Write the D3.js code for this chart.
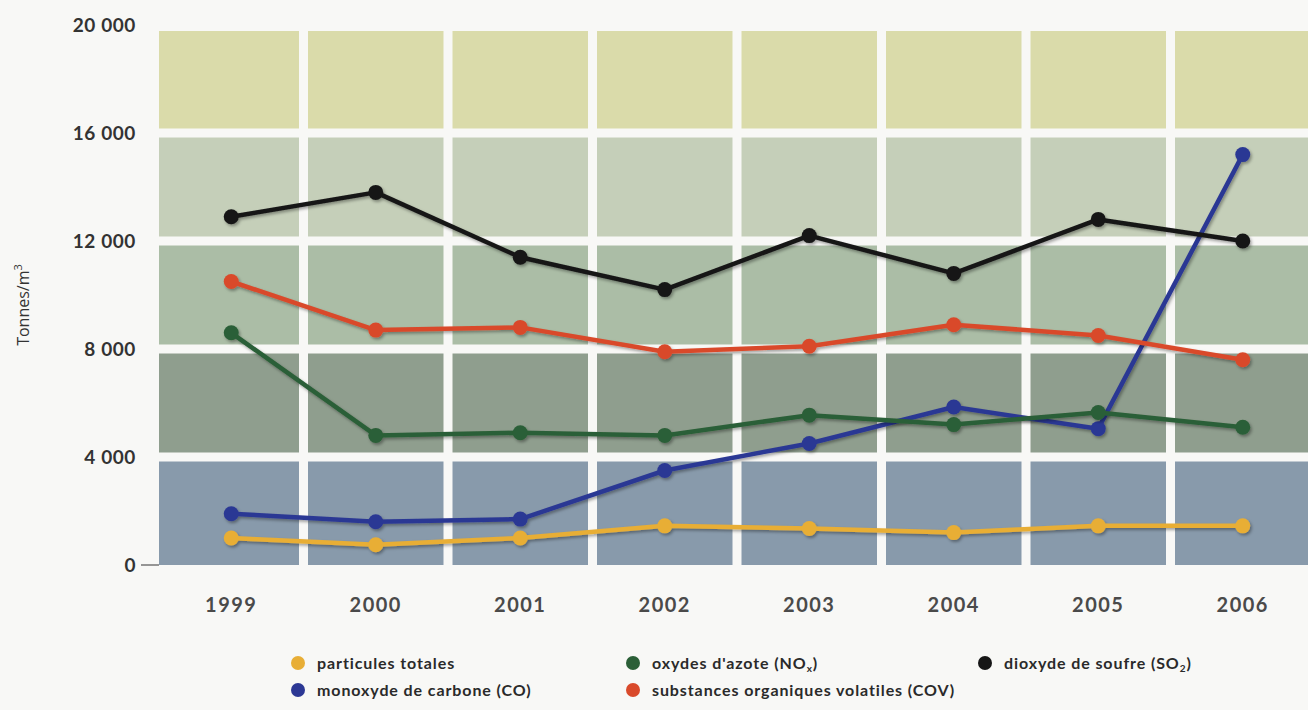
<!DOCTYPE html>
<html><head><meta charset="utf-8">
<script src="https://cdn.jsdelivr.net/npm/d3@7"></script>
<style>
html,body{margin:0;padding:0;background:#f8f8f6;}
svg{display:block;}
</style></head>
<body>
<svg id="chart" width="1308" height="710"></svg>
<script>
// ---- data ----
const years = ["1999","2000","2001","2002","2003","2004","2005","2006"];
const particules = [1000, 750, 1000, 1450, 1350, 1200, 1450, 1450];
const monoxyde   = [1900, 1600, 1700, 3500, 4500, 5850, 5050, 15200];
const oxydes     = [8600, 4800, 4900, 4800, 5550, 5200, 5650, 5100];
const substances = [10500, 8700, 8800, 7900, 8100, 8900, 8500, 7600];
const dioxyde    = [12900, 13800, 11400, 10200, 12200, 10800, 12800, 12000];
const yTicks = [0, 4000, 8000, 12000, 16000, 20000];
const bandColors = ["#889aab", "#8f9e8e", "#abbda6", "#c5cfb9", "#dadbaa"];

const series = [
  {key:"particules", values: particules, color:"#e8ae36"},
  {key:"monoxyde",   values: monoxyde,   color:"#2c3894"},
  {key:"oxydes",     values: oxydes,     color:"#2b5f37"},
  {key:"substances", values: substances, color:"#d94a2b"},
  {key:"dioxyde",    values: dioxyde,    color:"#161616"}
];

const svg = d3.select("#chart");
const x = d3.scaleBand().domain(years).range([159, 1315]).padding(0);
const y = d3.scaleLinear().domain([0, 20000]).range([565, 25]);
const cx = d => x(d) + x.bandwidth()/2;

const defs = svg.append("defs");
const f = defs.append("filter").attr("id","sh").attr("x","-50%").attr("y","-50%").attr("width","200%").attr("height","200%");
f.append("feDropShadow").attr("dx",1.5).attr("dy",2).attr("stdDeviation",1.5).attr("flood-color","#000").attr("flood-opacity",0.35);

// background cells
const gap = 9;
const cells = [];
for (let i = 0; i < yTicks.length - 1; i++) {
  years.forEach(yr => cells.push({lo: yTicks[i], hi: yTicks[i+1], yr, c: bandColors[i]}));
}
svg.append("g").selectAll("rect").data(cells).join("rect")
  .attr("x", d => x(d.yr) + (d.yr === years[0] ? 0 : gap/2))
  .attr("width", d => x.bandwidth() - (d.yr === years[0] ? gap/2 : gap))
  .attr("y", d => y(d.hi) + gap/2 + (d.hi === 20000 ? 1.5 : 0))
  .attr("height", d => y(d.lo) - y(d.hi) - (d.lo === 0 ? gap/2 : gap) - (d.hi === 20000 ? 1.5 : 0))
  .attr("fill", d => d.c);

// y axis labels
svg.append("g").selectAll("text").data(yTicks).join("text")
  .attr("x", 136).attr("y", d => y(d)).attr("dy","0.35em")
  .attr("text-anchor","end")
  .attr("font-family","Lato, sans-serif").attr("font-weight","bold")
  .attr("font-size", 19).attr("fill","#333").attr("letter-spacing","0.6")
  .text(d => d3.format(",")(d).replace(/,/g, " "));
svg.append("line").attr("x1",141).attr("x2",159).attr("y1",y(0)).attr("y2",y(0))
  .attr("stroke","#555").attr("stroke-width",1.2);

svg.append("text")
  .attr("transform","translate(29,305) rotate(-90)")
  .attr("text-anchor","middle")
  .attr("font-family","'Open Sans', sans-serif").attr("font-size",16).attr("fill","#333")
  .html('Tonnes/m<tspan dy="-7" font-size="11">3</tspan>');

// x labels
svg.append("g").selectAll("text").data(years).join("text")
  .attr("x", d => cx(d)).attr("y", 612)
  .attr("text-anchor","middle")
  .attr("font-family","Lato, sans-serif").attr("font-weight","bold")
  .attr("font-size", 20).attr("fill","#4a4a4a").attr("letter-spacing","1.5")
  .text(d => d);

// lines
const line = d3.line().x((d,i) => cx(years[i])).y(d => y(d));
const order = ["particules","monoxyde","oxydes","substances","dioxyde"];
const g = svg.append("g");
order.forEach(k => {
  const s = series.find(s => s.key === k);
  const sg = g.append("g").attr("filter","url(#sh)");
  sg.append("path").datum(s.values).attr("d", line)
    .attr("fill","none").attr("stroke", s.color).attr("stroke-width",4.5)
    .attr("stroke-linejoin","round");
  sg.selectAll("circle").data(s.values).join("circle")
    .attr("cx",(d,i) => cx(years[i])).attr("cy", d => y(d)).attr("r",7.5)
    .attr("fill", s.color);
});

// legend
const legend = [
  {color:"#e8ae36", x:298, y:663, html:"particules totales"},
  {color:"#2b5f37", x:633, y:663, html:"oxydes d'azote (NO<tspan dy='3' font-size='10'>x</tspan><tspan dy='-3'>)</tspan>"},
  {color:"#161616", x:985, y:663, html:"dioxyde de soufre (SO<tspan dy='3' font-size='10'>2</tspan><tspan dy='-3'>)</tspan>"},
  {color:"#2c3894", x:298, y:690, html:"monoxyde de carbone (CO)"},
  {color:"#d94a2b", x:633, y:690, html:"substances organiques volatiles (COV)"}
];
const lg = svg.append("g").selectAll("g").data(legend).join("g");
lg.append("circle").attr("cx", d => d.x).attr("cy", d => d.y).attr("r",7).attr("fill", d => d.color);
lg.append("text").attr("x", d => d.x + 19).attr("y", d => d.y).attr("dy","0.35em")
  .attr("font-family","Lato, sans-serif").attr("font-weight","bold")
  .attr("font-size",16).attr("fill","#2a2a2a").attr("letter-spacing","0.9")
  .html(d => d.html);
</script>
</body></html>
